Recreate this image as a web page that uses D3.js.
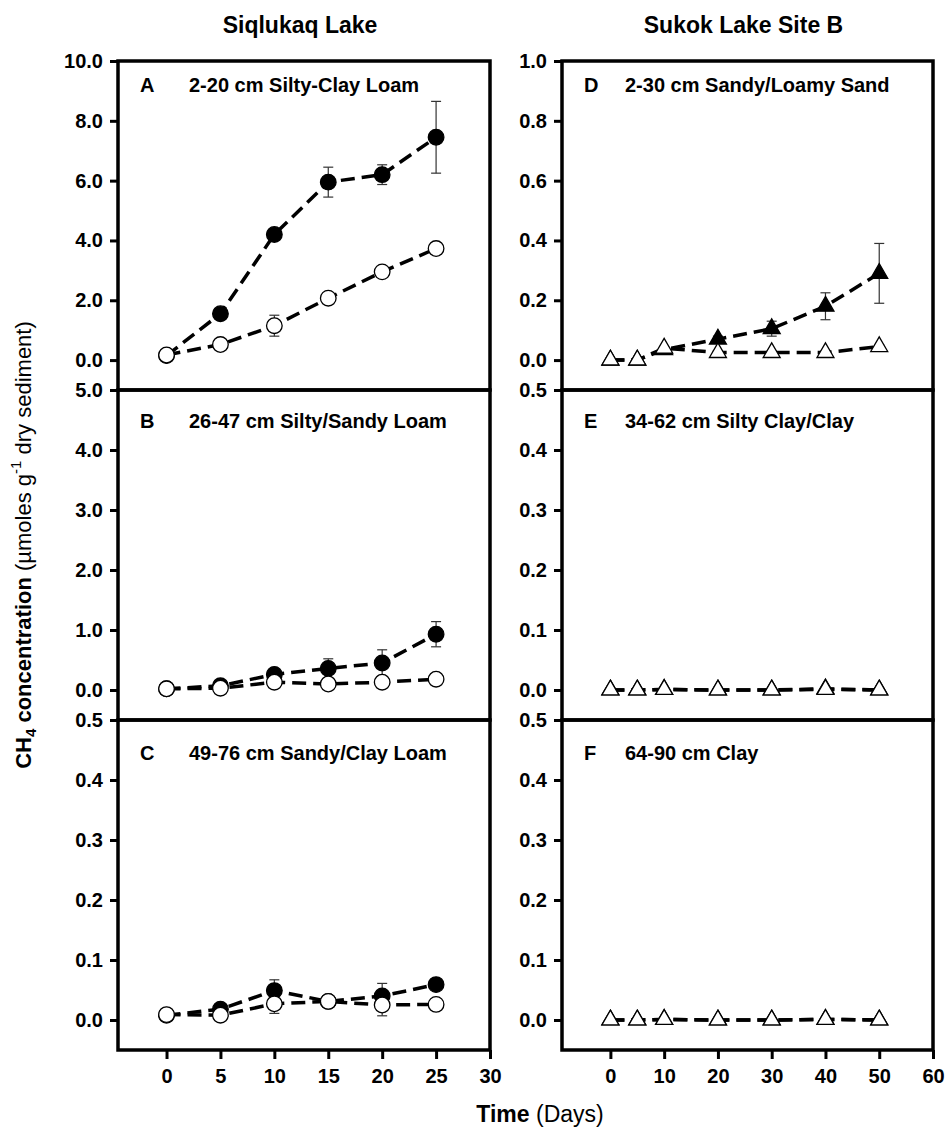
<!DOCTYPE html>
<html><head><meta charset="utf-8">
<script src="https://cdn.jsdelivr.net/npm/d3@7"></script>
<style>
html,body{margin:0;padding:0;background:#fff;}
text{font-family:Arial,"Liberation Sans",sans-serif;fill:#000;}
</style></head>
<body><svg id="c" width="947" height="1128"></svg>
<script>
// ---- data ----
const daysLeft = [0, 5, 10, 15, 20, 25];
const daysRight = [0, 5, 10, 20, 30, 40, 50];
const xTicksLeft = [0, 5, 10, 15, 20, 25, 30];
const xTicksRight = [0, 10, 20, 30, 40, 50, 60];

const lakeTitles = ["Siqlukaq Lake", "Sukok Lake Site B"];
const panelLetters = ["A", "B", "C", "D", "E", "F"];
const panelTitles = ["2-20 cm Silty-Clay Loam", "26-47 cm Silty/Sandy Loam", "49-76 cm Sandy/Clay Loam",
                     "2-30 cm Sandy/Loamy Sand", "34-62 cm Silty Clay/Clay", "64-90 cm Clay"];
const yMax = [10, 5, 0.5, 1.0, 0.5, 0.5];
const yStep = [2, 1, 0.1, 0.2, 0.1, 0.1];

const A_filled = [0.15, 1.55, 4.20, 5.95, 6.20, 7.45];
const A_filledErr = [0.05, 0.10, 0.15, 0.50, 0.33, 1.20];
const A_open = [0.17, 0.52, 1.15, 2.07, 2.95, 3.73];
const A_openErr = [0.03, 0.05, 0.35, 0.05, 0.05, 0.05];

const B_filled = [0.02, 0.07, 0.26, 0.36, 0.45, 0.93];
const B_filledErr = [0.01, 0.02, 0.04, 0.16, 0.22, 0.21];
const B_open = [0.02, 0.03, 0.13, 0.10, 0.13, 0.18];
const B_openErr = [0.01, 0.01, 0.02, 0.02, 0.02, 0.02];

const C_filled = [0.008, 0.018, 0.049, 0.031, 0.040, 0.059];
const C_filledErr = [0.002, 0.003, 0.018, 0.003, 0.021, 0.004];
const C_open = [0.009, 0.008, 0.027, 0.031, 0.025, 0.026];
const C_openErr = [0.002, 0.002, 0.016, 0.002, 0.018, 0.002];

const D_filled = [0.0, 0.0, 0.035, 0.07, 0.105, 0.18, 0.29];
const D_filledErr = [0.0, 0.0, 0.005, 0.01, 0.025, 0.045, 0.10];
const D_open = [0.0, 0.0, 0.04, 0.025, 0.025, 0.025, 0.045];
const D_openErr = [0.0, 0.0, 0.005, 0.005, 0.005, 0.005, 0.005];

const E_filled = [0.0, 0.0, 0.001, 0.0, 0.0, 0.002, 0.0];
const E_filledErr = [0, 0, 0, 0, 0, 0, 0];
const E_open = [0.0, 0.0, 0.001, 0.0, 0.0, 0.001, 0.0];
const E_openErr = [0, 0, 0, 0, 0, 0, 0];

const F_filled = [0.0, 0.0, 0.001, 0.0, 0.0, 0.001, 0.0];
const F_filledErr = [0, 0, 0, 0, 0, 0, 0];
const F_open = [0.0, 0.0, 0.001, 0.0, 0.0, 0.001, 0.0];
const F_openErr = [0, 0, 0, 0, 0, 0, 0];

// ---- layout ----
const svg = d3.select("#c");
const FONT = 'Arial,"Liberation Sans",sans-serif';
const colX = [[118, 490], [562, 933]];
const rowTop = [61, 390, 720];
const bottom = 1050;
const xScales = [
  d3.scaleLinear().domain([-4.5, 30]).range(colX[0]),
  d3.scaleLinear().domain([-9, 60]).range(colX[1])
];
const labelBase = [92, 428, 760];

const series = [
  [A_filled, A_filledErr, A_open, A_openErr],
  [B_filled, B_filledErr, B_open, B_openErr],
  [C_filled, C_filledErr, C_open, C_openErr],
  [D_filled, D_filledErr, D_open, D_openErr],
  [E_filled, E_filledErr, E_open, E_openErr],
  [F_filled, F_filledErr, F_open, F_openErr]
];

panelLetters.forEach((letter, i) => {
  const col = i < 3 ? 0 : 1;
  const row = i % 3;
  const x = xScales[col];
  const days = col === 0 ? daysLeft : daysRight;
  const top = rowTop[row];
  const bot = row < 2 ? rowTop[row + 1] : bottom;
  const y = d3.scaleLinear().domain([-yMax[i] / 10, yMax[i]]).range([bot, top]);
  const g = svg.append("g");

  // y axis
  const ticks = d3.range(0, yMax[i] + yStep[i] / 2, yStep[i]);
  const ya = g.append("g").attr("transform", `translate(${colX[col][0]},0)`)
    .call(d3.axisLeft(y).tickValues(ticks).tickFormat(d3.format(".1f")).tickSize(8).tickPadding(7));
  ya.select(".domain").remove();
  ya.selectAll("line").attr("stroke", "#000").attr("stroke-width", 3);
  ya.selectAll("text").attr("font-family", FONT).attr("font-weight", "bold").attr("font-size", 20).attr("fill", "#000");

  if (row === 2) {
    const xa = g.append("g").attr("transform", `translate(0,${bottom})`)
      .call(d3.axisBottom(x).tickValues(col === 0 ? xTicksLeft : xTicksRight).tickSize(9).tickPadding(10));
    xa.select(".domain").remove();
    xa.selectAll("line").attr("stroke", "#000").attr("stroke-width", 3);
    xa.selectAll("text").attr("font-family", FONT).attr("font-weight", "bold").attr("font-size", 20).attr("fill", "#000");
  }

  const [fv, fe, ov, oe] = series[i];
  const mk = (vals, errs) => days.map((d, k) => ({d, v: vals[k], e: errs[k]}));
  const fData = mk(fv, fe), oData = mk(ov, oe);
  const line = d3.line().x(p => x(p.d)).y(p => y(p.v));

  // error bars
  [fData, oData].forEach(data => {
    const eb = g.append("g").attr("stroke", "#333").attr("stroke-width", 1.2);
    data.filter(p => p.e > 0).forEach(p => {
      const cx = x(p.d);
      eb.append("line").attr("x1", cx).attr("x2", cx).attr("y1", y(p.v - p.e)).attr("y2", y(p.v + p.e));
      eb.append("line").attr("x1", cx - 5).attr("x2", cx + 5).attr("y1", y(p.v - p.e)).attr("y2", y(p.v - p.e));
      eb.append("line").attr("x1", cx - 5).attr("x2", cx + 5).attr("y1", y(p.v + p.e)).attr("y2", y(p.v + p.e));
    });
  });

  // dashed lines
  [fData, oData].forEach(data => {
    g.append("path").datum(data).attr("d", line).attr("fill", "none")
      .attr("stroke", "#000").attr("stroke-width", 3.5).attr("stroke-dasharray", "14,7");
  });

  // markers
  const drawMarkers = (data, filled) => {
    if (col === 0) {
      g.selectAll(null).data(data).enter().append("circle")
        .attr("cx", p => x(p.d)).attr("cy", p => y(p.v)).attr("r", 7.8)
        .attr("fill", filled ? "#000" : "#fff").attr("stroke", "#000").attr("stroke-width", 1.3);
    } else {
      g.selectAll(null).data(data).enter().append("path")
        .attr("d", d3.symbol(d3.symbolTriangle).size(125))
        .attr("transform", p => `translate(${x(p.d)},${y(p.v)})`)
        .attr("fill", filled ? "#000" : "#fff").attr("stroke", "#000").attr("stroke-width", 1.3);
    }
  };
  drawMarkers(fData, true);
  drawMarkers(oData, false);

  // frame
  g.append("rect").attr("x", colX[col][0]).attr("y", top)
    .attr("width", colX[col][1] - colX[col][0]).attr("height", bot - top)
    .attr("fill", "none").attr("stroke", "#000").attr("stroke-width", 3.5);

  // panel label
  g.append("text").attr("x", colX[col][0] + 22).attr("y", labelBase[row])
    .attr("font-weight", "bold").attr("font-size", 20).text(letter);
  g.append("text").attr("x", colX[col][0] + (col === 0 ? 71 : 63)).attr("y", labelBase[row])
    .attr("font-weight", "bold").attr("font-size", 20).text(panelTitles[i]);
});

// lake titles
lakeTitles.forEach((t, c) => {
  svg.append("text").attr("x", (colX[c][0] + colX[c][1]) / 2 - 4).attr("y", 33)
    .attr("text-anchor", "middle").attr("font-weight", "bold").attr("font-size", 23).text(t);
});

// y axis title
const yt = svg.append("text").attr("transform", "translate(31,545) rotate(-90)")
  .attr("text-anchor", "middle").attr("font-size", 22);
yt.append("tspan").attr("font-weight", "bold").text("CH");
yt.append("tspan").attr("font-weight", "bold").attr("font-size", 15).attr("dy", 5).text("4");
yt.append("tspan").attr("font-weight", "bold").attr("dy", -5).text(" concentration ");
yt.append("tspan").text("(\u00B5moles g");
yt.append("tspan").attr("font-size", 15).attr("dy", -10).text("-1");
yt.append("tspan").attr("dy", 10).text(" dry sediment)");

// x axis title
const xt = svg.append("text").attr("x", 540).attr("y", 1122).attr("text-anchor", "middle").attr("font-size", 23);
xt.append("tspan").attr("font-weight", "bold").text("Time");
xt.append("tspan").text(" (Days)");
</script></body></html>
